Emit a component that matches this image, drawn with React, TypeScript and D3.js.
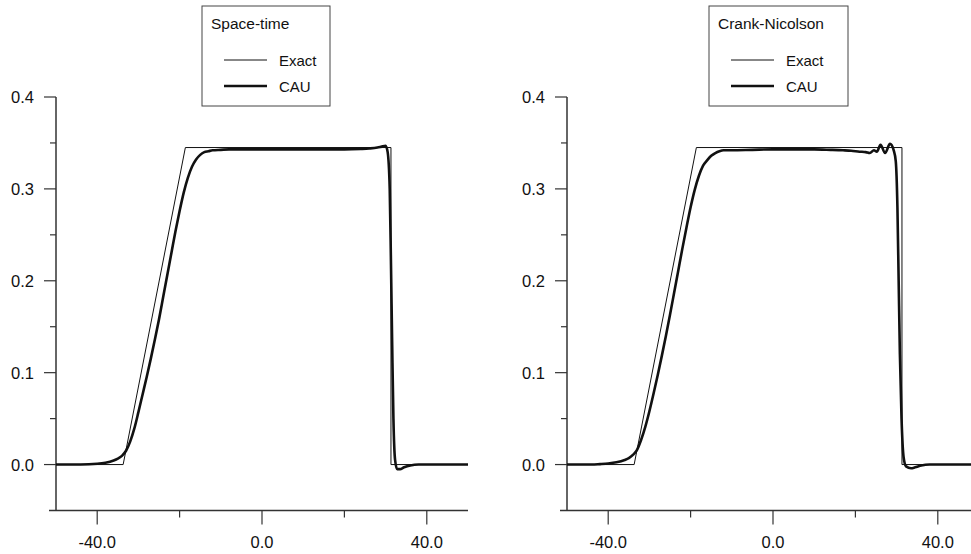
import React from 'react';
import * as d3 from 'd3';

// tamanho fixo da figura
const width = 971;
const height = 554;

// solução exata (pulso trapezoidal)
const exactX = [-50, -33.7, -18.6, 31.3, 31.3, 50];
const exactY = [0, 0, 0.345, 0.345, 0, 0];

// CAU - esquema space-time
const stX = [-50, -44, -40, -38, -36, -35, -34, -33, -32, -31, -30, -29, -28, -27, -26, -25, -24, -23, -22, -21, -20, -19, -18, -17, -16, -15, -14, -13, -12, -10, -8, -5, 0, 5, 10, 15, 20, 24, 26, 28, 29, 30, 30.5, 31, 31.3, 31.6, 31.9, 32.3, 32.8, 33.5, 34.5, 36, 38, 40, 45, 50];
const stY = [0, 0, 0.0008, 0.002, 0.0045, 0.0065, 0.0095, 0.015, 0.025, 0.039, 0.057, 0.076, 0.095, 0.115, 0.136, 0.158, 0.182, 0.206, 0.23, 0.254, 0.276, 0.296, 0.312, 0.324, 0.332, 0.337, 0.34, 0.341, 0.342, 0.3425, 0.343, 0.343, 0.343, 0.343, 0.343, 0.343, 0.343, 0.3435, 0.344, 0.345, 0.346, 0.347, 0.34, 0.3, 0.22, 0.13, 0.05, 0.005, -0.005, -0.005, -0.003, -0.001, 0, 0, 0, 0];

// CAU - esquema Crank-Nicolson
const cnX = [-50, -44, -42, -40, -38, -36, -35, -34, -33, -32, -31, -30, -29, -28, -27, -26, -25, -24, -23, -22, -21, -20, -19, -18, -17, -16, -15, -14, -13, -12, -10, -5, 0, 5, 10, 14, 17, 19, 21, 22.5, 23.5, 24.5, 25.2, 26.1, 27.2, 28.4, 29.3, 29.8, 30.2, 30.5, 30.8, 31.2, 31.7, 32.3, 33.5, 34.5, 36, 38, 45, 50];
const cnY = [0, 0, 0.0005, 0.0012, 0.0025, 0.005, 0.007, 0.0105, 0.016, 0.027, 0.041, 0.058, 0.077, 0.097, 0.118, 0.14, 0.163, 0.187, 0.211, 0.235, 0.258, 0.28, 0.299, 0.314, 0.325, 0.331, 0.336, 0.339, 0.341, 0.342, 0.342, 0.3425, 0.343, 0.343, 0.343, 0.3425, 0.342, 0.3415, 0.3405, 0.34, 0.339, 0.342, 0.3405, 0.348, 0.339, 0.349, 0.342, 0.33, 0.28, 0.2, 0.12, 0.05, 0.008, -0.002, -0.004, -0.003, -0.001, 0, 0, 0];

// ticks e rótulos
const xMajorTicks = [-40, 0, 40];
const xTickLabels = ['-40.0', '0.0', '40.0'];
const xMinorTicks = [-20, 20];
const yMajorTicks = [0, 0.1, 0.2, 0.3, 0.4];
const yTickLabels = ['0.0', '0.1', '0.2', '0.3', '0.4'];
const yMinorTicks = [0.05, 0.15, 0.25, 0.35];

const legendLabels = ['Exact', 'CAU'];

const font = '"Liberation Sans", Arial, sans-serif';
const ink = '#111';

type PanelProps = {
    left: number;
    title: string;
    cx: number[];
    cy: number[];
    box: { x: number; w: number };
};

function Panel({ left, title, cx, cy, box }: PanelProps) {
    const x = d3.scaleLinear().domain([-50, 50]).range([left, left + 412]);
    const y = d3.scaleLinear().domain([-0.05, 0.4]).range([510.5, 97]);

    const line = d3.line<[number, number]>()
        .x(d => x(d[0]))
        .y(d => y(d[1]));
    const smooth = d3.line<[number, number]>()
        .x(d => x(d[0]))
        .y(d => y(d[1]))
        .curve(d3.curveMonotoneX);

    const exactPts = exactX.map((v, i) => [v, exactY[i]] as [number, number]);
    const cauPts = cx.map((v, i) => [v, cy[i]] as [number, number]);

    const x0 = x(-50);
    const yb = y(-0.05);

    return (
        <g>
            {/* eixos */}
            <line x1={x0 - 7} x2={x(50)} y1={yb} y2={yb} stroke="#333" strokeWidth={1.5} />
            <line x1={x0} x2={x0} y1={y(0.4)} y2={yb} stroke="#333" strokeWidth={1.5} />
            {xMajorTicks.map((t, i) => (
                <g key={'xm' + t}>
                    <line x1={x(t)} x2={x(t)} y1={yb} y2={yb + 14} stroke="#333" strokeWidth={1.2} />
                    <text x={x(t)} y={548} textAnchor="middle" fontSize={16.5} fontFamily={font} fill={ink}>{xTickLabels[i]}</text>
                </g>
            ))}
            {xMinorTicks.map(t => (
                <line key={'xn' + t} x1={x(t)} x2={x(t)} y1={yb} y2={yb + 7} stroke="#333" strokeWidth={1.2} />
            ))}
            {yMajorTicks.map((t, i) => (
                <g key={'ym' + t}>
                    <line x1={x0 - 12} x2={x0} y1={y(t)} y2={y(t)} stroke="#333" strokeWidth={1.2} />
                    <text x={x0 - 22} y={y(t) + 6} textAnchor="end" fontSize={16.5} fontFamily={font} fill={ink}>{yTickLabels[i]}</text>
                </g>
            ))}
            {yMinorTicks.map(t => (
                <line key={'yn' + t} x1={x0 - 6} x2={x0} y1={y(t)} y2={y(t)} stroke="#333" strokeWidth={1.2} />
            ))}

            {/* curvas */}
            <path d={line(exactPts) ?? ''} fill="none" stroke={ink} strokeWidth={1} />
            <path d={smooth(cauPts) ?? ''} fill="none" stroke={ink} strokeWidth={2.6} strokeLinejoin="round" />

            {/* legenda */}
            <rect x={box.x} y={6} width={box.w} height={100} fill="#fff" stroke="#444" strokeWidth={1} />
            <text x={box.x + 9} y={29} fontSize={15.5} fontFamily={font} fill={ink}>{title}</text>
            {legendLabels.map((lab, i) => (
                <g key={lab}>
                    <line x1={box.x + 22} x2={box.x + 65} y1={60 + i * 26} y2={60 + i * 26} stroke={ink} strokeWidth={i === 0 ? 1 : 2.6} />
                    <text x={box.x + 77} y={66 + i * 26} fontSize={15} fontFamily={font} fill={ink}>{lab}</text>
                </g>
            ))}
        </g>
    );
}

export default function App() {
    return (
        <svg width={width} height={height} style={{ position: 'absolute', left: 0, top: 0, background: '#fff' }}>
            <Panel left={56} title="Space-time" cx={stX} cy={stY} box={{ x: 202, w: 128 }} />
            <Panel left={567} title="Crank-Nicolson" cx={cnX} cy={cnY} box={{ x: 709, w: 139 }} />
        </svg>
    );
}
